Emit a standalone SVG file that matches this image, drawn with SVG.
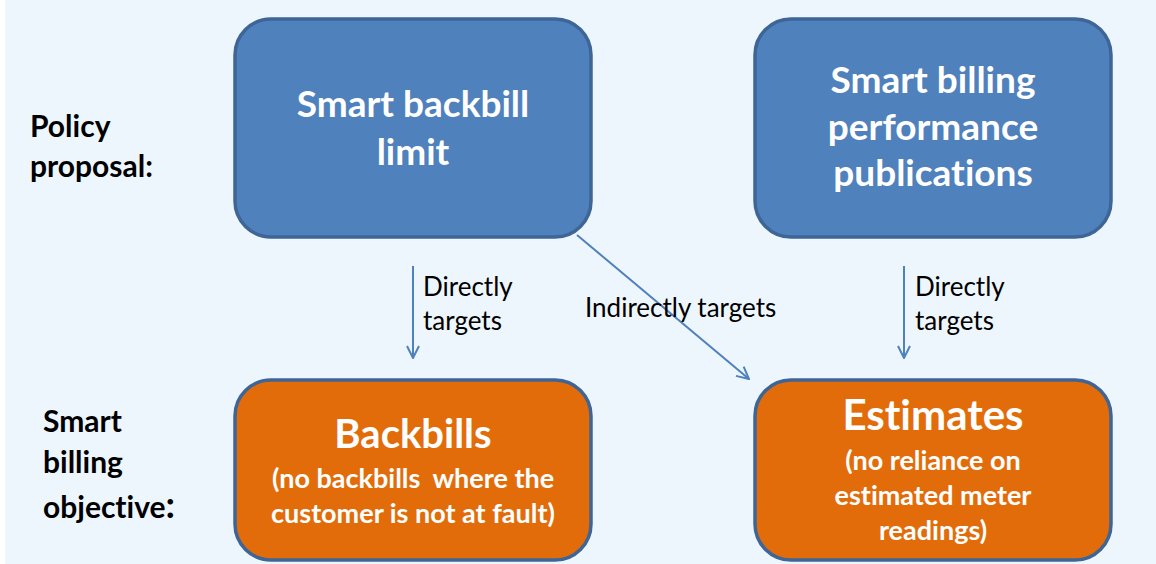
<svg xmlns="http://www.w3.org/2000/svg" width="1156" height="564" viewBox="0 0 1156 564">
  <style>
    text { font-variant-ligatures: none; font-feature-settings: "liga" 0; }
    .node rect { stroke: #3E6596; stroke-width: 3.5; }
    .policy rect { fill: #4F81BD; }
    .objective rect { fill: #E36C0A; }
    .node text { fill: #FFFFFF; font-family: Lato, "Open Sans", "Liberation Sans", sans-serif; font-weight: bold; text-anchor: middle; }
    .side { fill: #000000; font-family: Lato, "Open Sans", "Liberation Sans", sans-serif; font-weight: bold; font-size: 30px; }
    .edge-label { fill: #000000; font-family: Lato, "Open Sans", "Liberation Sans", sans-serif; font-size: 26px; }
    .edge { stroke: #4F81BD; stroke-width: 2; fill: none; marker-end: url(#open-arrow); }
  </style>
  <defs>
    <marker id="open-arrow" viewBox="0 0 14 14" refX="13" refY="7" markerWidth="14" markerHeight="14" markerUnits="userSpaceOnUse" orient="auto">
      <path d="M1,1 L13,7 L1,13" fill="none" stroke="#4F81BD" stroke-width="2"/>
    </marker>
  </defs>

  <!-- page background -->
  <rect x="0" y="0" width="1156" height="564" fill="#FFFFFF"/>
  <rect x="5" y="0" width="1151" height="564" fill="#EEF6FD"/>

  <!-- row labels -->
  <g id="label-policy">
    <text class="side" x="30" y="137">Policy</text>
    <text class="side" x="30" y="177">proposal:</text>
  </g>
  <g id="label-objective">
    <text class="side" x="43" y="432">Smart</text>
    <text class="side" x="43" y="473">billing</text>
    <text class="side" x="43" y="518">objective<tspan font-size="37">:</tspan></text>
  </g>

  <!-- policy proposals -->
  <g id="node-backbill-limit" class="node policy">
    <rect x="235" y="19" width="356" height="218" rx="36" ry="36"/>
    <text x="413" y="117" font-size="37">Smart backbill</text>
    <text x="413" y="165" font-size="37">limit</text>
  </g>
  <g id="node-performance-publications" class="node policy">
    <rect x="755" y="19" width="356" height="218" rx="36" ry="36"/>
    <text x="933" y="93" font-size="37">Smart billing</text>
    <text x="933" y="140" font-size="37">performance</text>
    <text x="933" y="186" font-size="37">publications</text>
  </g>

  <!-- objectives -->
  <g id="node-backbills" class="node objective">
    <rect x="235" y="380" width="356" height="180" rx="36" ry="36"/>
    <text x="413" y="448" font-size="40">Backbills</text>
    <text x="413" y="488" font-size="27">(no backbills <tspan dx="6">where the</tspan></text>
    <text x="413" y="523" font-size="27">customer is not at fault)</text>
  </g>
  <g id="node-estimates" class="node objective">
    <rect x="755" y="380" width="356" height="180" rx="36" ry="36"/>
    <text x="933" y="430" font-size="42">Estimates</text>
    <text x="933" y="470" font-size="27">(no reliance on</text>
    <text x="933" y="505" font-size="27">estimated meter</text>
    <text x="933" y="540" font-size="27">readings)</text>
  </g>

  <!-- connectors -->
  <g id="connectors">
    <line class="edge" x1="413" y1="266" x2="413" y2="358"/>
    <line class="edge" x1="577" y1="235" x2="749" y2="379"/>
    <line class="edge" x1="904" y1="266" x2="904" y2="358"/>
    <text class="edge-label" x="423" y="296">Directly</text>
    <text class="edge-label" x="423" y="330">targets</text>
    <text class="edge-label" x="585" y="317" font-size="27.5">Indirectly targets</text>
    <text class="edge-label" x="915" y="296">Directly</text>
    <text class="edge-label" x="915" y="330">targets</text>
  </g>
</svg>
